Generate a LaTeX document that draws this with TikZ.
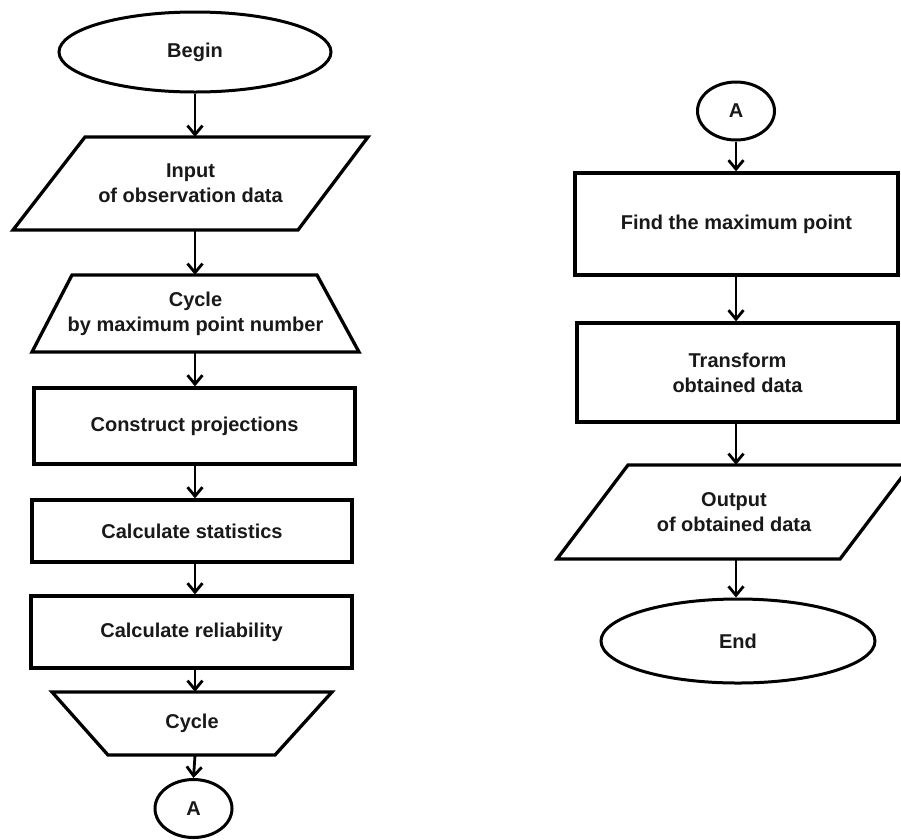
\documentclass[tikz,border=0pt]{standalone}
\usepackage{fontspec}
\setmainfont{Liberation Sans}
\usetikzlibrary{shapes.geometric,arrows.meta}
\begin{document}
\begin{tikzpicture}[x=1pt,y=-1pt,
  lbl/.style={font=\bfseries\fontsize{20}{25}\selectfont, align=center, inner sep=0pt, text=black!90},
  rectbox/.style={lbl, draw, line width=3.3pt, rectangle},
  ellbox/.style={lbl, draw, line width=3pt, ellipse},
  outl/.style={line width=3.3pt, line join=miter},
  flow/.style={line width=2.8pt, -{Straight Barb[length=9pt,width=15pt,line width=2.8pt]}}]
\useasboundingbox (0,0) rectangle (901,839);
\clip (0,0) rectangle (901,839);
\fill[white] (0,0) rectangle (901,839);

% ---------- left column ----------
\node[ellbox, minimum width=272pt, minimum height=80pt] (begin) at (195,52) {Begin};

\node[lbl, minimum width=355pt, minimum height=93pt] (input) at (190.5,183.5) {Input\\of observation data};
\draw[outl] (85,137) -- (368,137) -- (298,230) -- (13,230) -- cycle;

\node[lbl, minimum width=327pt, minimum height=77pt] (cyc1) at (195.5,313.5) {Cycle\\by maximum point number};
\draw[outl] (72,275) -- (317,275) -- (359,352) -- (32,352) -- cycle;

\node[rectbox, minimum width=321pt, minimum height=76pt] (constr) at (194.5,426) {Construct projections};
\node[rectbox, minimum width=320pt, minimum height=62pt] (stats) at (192,531) {Calculate statistics};
\node[rectbox, minimum width=321pt, minimum height=72pt] (reli) at (191.5,632) {Calculate reliability};

\node[lbl, minimum width=280pt, minimum height=63pt] (cyc2) at (192,723.5) {Cycle};
\draw[outl] (52,692) -- (332,692) -- (275,755) -- (108,755) -- cycle;

\node[ellbox, minimum width=77pt, minimum height=58pt] (a1) at (193.5,808.5) {A};

\draw[flow] (begin.south) -- (begin.south |- input.north);
\draw[flow] (begin.south |- input.south) -- (begin.south |- cyc1.north);
\draw[flow] (begin.south |- cyc1.south) -- (begin.south |- constr.north);
\draw[flow] (begin.south |- constr.south) -- (begin.south |- stats.north);
\draw[flow] (begin.south |- stats.south) -- (begin.south |- reli.north);
\draw[flow] (begin.south |- reli.south) -- (begin.south |- cyc2.north);
\draw[flow] (begin.south |- cyc2.south) -- (a1.north);

% ---------- right column ----------
\node[ellbox, minimum width=77pt, minimum height=58pt] (a2) at (736,111) {A};
\node[rectbox, minimum width=323pt, minimum height=102pt] (find) at (736.5,224) {Find the maximum point};
\node[rectbox, minimum width=321pt, minimum height=99pt] (trans) at (737.5,372.5) {Transform\\obtained data};

\node[lbl, minimum width=354pt, minimum height=94pt] (output) at (734,512) {Output\\of obtained data};
\draw[outl] (628,465) -- (911,465) -- (840,559) -- (557,559) -- cycle;

\node[ellbox, minimum width=274pt, minimum height=84pt] (end) at (738,641) {End};

\draw[flow] (a2.south) -- (a2.south |- find.north);
\draw[flow] (a2.south |- find.south) -- (a2.south |- trans.north);
\draw[flow] (a2.south |- trans.south) -- (a2.south |- output.north);
\draw[flow] (a2.south |- output.south) -- (a2.south |- end.north);
\end{tikzpicture}
\end{document}
